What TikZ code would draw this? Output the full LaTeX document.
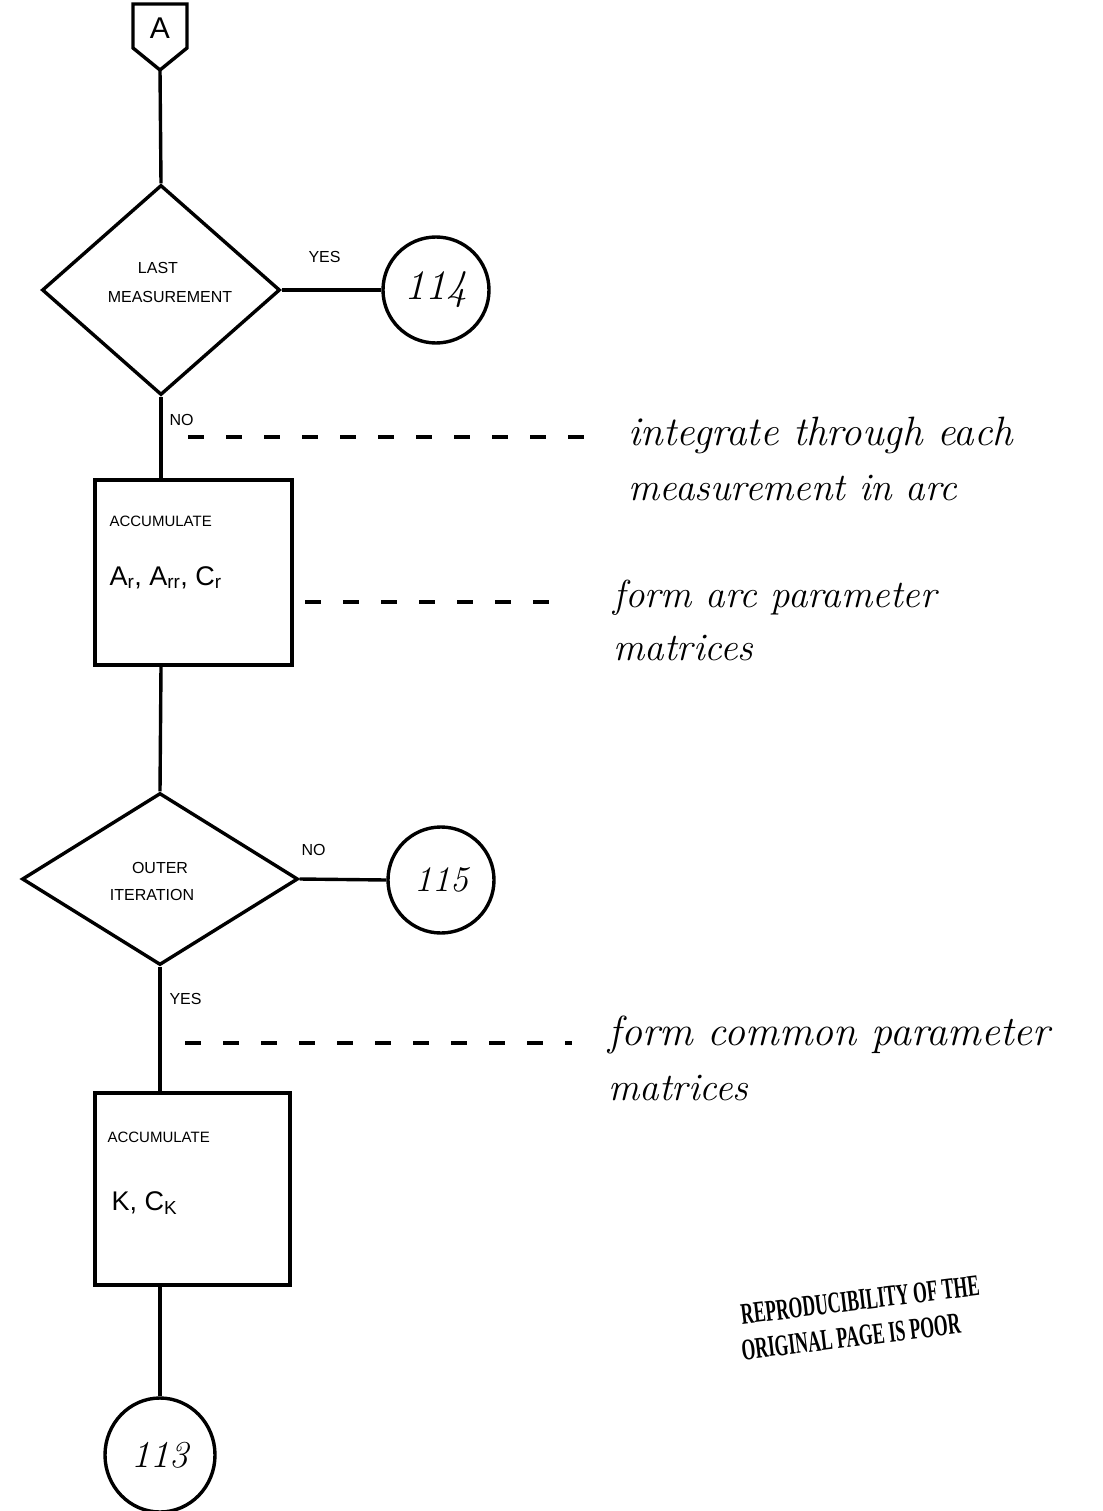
\documentclass[tikz,border=0pt]{standalone}
\usepackage{fontspec}
\newfontfamily\boxfont{Liberation Sans}
\newfontfamily\stampfont{Liberation Serif}
\usetikzlibrary{shapes.geometric}
\begin{document}
\begin{tikzpicture}[x=1pt,y=-1pt,
  flow/.style={line width=3.4pt},
  dec/.style={diamond, draw, line width=3.4pt, inner sep=0pt, align=center,
    font=\boxfont\fontsize{16}{28}\selectfont},
  proc/.style={rectangle, draw, line width=3.4pt, inner sep=0pt},
  conn/.style={circle, draw, line width=3.4pt, inner sep=0pt, minimum size=106pt,
    font=\itshape\fontsize{42}{46}\selectfont},
  lbl/.style={font=\boxfont\fontsize{16}{18}\selectfont},
  boxtxt/.style={font=\boxfont\fontsize{15}{17}\selectfont, anchor=base west},
  boxmath/.style={font=\boxfont\fontsize{27}{30}\selectfont, anchor=base west},
  note/.style={font=\itshape\fontsize{39}{44}\selectfont, anchor=base west},
  leader/.style={line width=3.4pt, dash pattern=on 16pt off 22pt},
  stamp/.style={font=\stampfont\bfseries\fontsize{30}{34}\selectfont,
    rotate=7, xscale=0.59, inner sep=0pt}
]
\useasboundingbox (0,0) rectangle (1102,1511);

% off-page connector A
\node[inner sep=0pt, minimum width=54pt, minimum height=46pt,
      font=\boxfont\fontsize{30}{34}\selectfont] (A) at (160,28) {A};
\draw[flow, line join=miter] (133,4) -- (187,4) -- (187,48) -- (160,70) -- (133,48) -- cycle;
\coordinate (Atip) at (160,70);

% decision 1
\node[dec, minimum width=238pt, minimum height=210pt] (d1) at (161,290) {};
\node[lbl] (d1a) at (158,268) {LAST};
\node[lbl] (d1b) at (170,297) {MEASUREMENT};
\node[conn] (c114) at (436,290) {114};
\node[lbl, anchor=base west] (yes1) at (305,263) {YES};
\node[lbl, anchor=base west] (no1) at (166,425) {NO};

% process 1
\node[proc, minimum width=197pt, minimum height=185pt] (p1) at (193.5,572.5) {};
\node[boxtxt] (p1t) at (106,526) {ACCUMULATE};
\node[boxmath] (p1m) at (106,585) {A\textsubscript{r}, A\textsubscript{rr}, C\textsubscript{r}};

% decision 2
\node[dec, minimum width=276pt, minimum height=172pt] (d2) at (160,879) {};
\node[lbl] (d2a) at (160,868) {OUTER};
\node[lbl] (d2b) at (152,895) {ITERATION};
\node[conn, font=\itshape\fontsize{36}{40}\selectfont] (c115) at (441,880) {115};
\node[lbl, anchor=base west] (no2) at (298,855) {NO};
\node[lbl, anchor=base west] (yes2) at (166,1004) {YES};

% process 2
\node[proc, minimum width=195pt, minimum height=192pt] (p2) at (192.5,1189) {};
\node[boxtxt] (p2t) at (104,1142) {ACCUMULATE};
\node[boxmath] (p2m) at (108,1210) {K, C\textsubscript{K}};

% end connector
\node[ellipse, draw, line width=3.4pt, inner sep=0pt, minimum width=110pt,
      minimum height=114pt, font=\itshape\fontsize{38}{42}\selectfont] (c113) at (160,1455) {113};

% flow lines
\draw[flow] (Atip) -- (d1.north);
\draw[flow] (d1.east) -- (c114.west);
\draw[flow] (d1.south) -- (d1.south |- p1.north);
\draw[flow] (p1.south -| d1.south) -- (d2.north);
\draw[flow] (d2.east) -- (c115.west);
\draw[flow] (d2.south) -- (d2.south |- p2.north);
\draw[flow] (p2.south -| d2.south) -- (c113.north);

% annotations
\node[note, font=\itshape\fontsize{41}{46}\selectfont] (n1a) at (625,445) {integrate through each};
\node[note] (n1b) at (625,500) {measurement in arc};
\node[note] (n2a) at (610,607) {form arc parameter};
\node[note] (n2b) at (610,660) {matrices};
\node[note, font=\itshape\fontsize{42}{46}\selectfont] (n3a) at (605,1045) {form common parameter};
\node[note] (n3b) at (605,1100) {matrices};

\coordinate (l1s) at (188,437);
\coordinate (l1e) at (600,437);
\coordinate (l2s) at (305,602);
\coordinate (l2e) at (568,602);
\coordinate (l3s) at (185,1043);
\coordinate (l3e) at (572,1043);
\draw[leader] (l1s) -- (l1e);
\draw[leader] (l2s) -- (l2e);
\draw[leader] (l3s) -- (l3e);

% stamp
\node[stamp] (stamp1) at (860,1300) {REPRODUCIBILITY OF THE};
\node[stamp] (stamp2) at (851,1337) {ORIGINAL PAGE IS POOR};
\end{tikzpicture}
\end{document}
